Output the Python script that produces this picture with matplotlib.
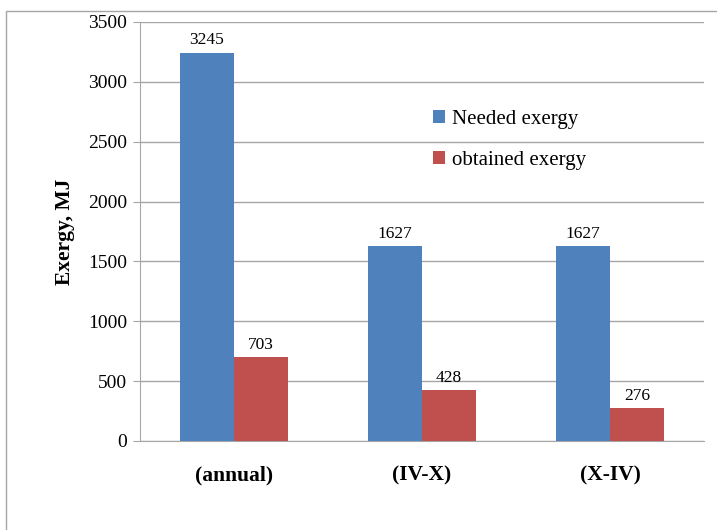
import numpy as np
import matplotlib.pyplot as plt
from matplotlib.patches import Rectangle

plt.rcParams['font.family'] = 'Liberation Serif'

categories = ["(annual)", "(IV-X)", "(X-IV)"]
needed = [3245, 1627, 1627]
obtained = [703, 428, 276]

fig = plt.figure(figsize=(7.17, 5.30), dpi=100)
ax = fig.add_axes([0.195, 0.168, 0.787, 0.7905])

# outer chart frame
fig.patches.append(Rectangle((6/717, -0.05), 1.1, 1 - 11/530 + 0.05,
                             transform=fig.transFigure, fill=False,
                             edgecolor='#a6a6a6', linewidth=1))

x = np.arange(len(categories))
w = 0.287
b1 = ax.bar(x - w/2, needed, w, color='#4F81BD', label='Needed exergy', zorder=3)
b2 = ax.bar(x + w/2, obtained, w, color='#C0504D', label='obtained exergy', zorder=3)
ax.bar_label(b1, padding=3, fontsize=12.5)
ax.bar_label(b2, padding=3, fontsize=12.5)

ax.set_xlim(-0.5, 2.5)
ax.set_ylim(0, 3500)
ax.set_yticks(range(0, 3501, 500))
ax.set_xticks(x)
ax.set_xticklabels(categories, fontsize=15.5, fontweight='bold')
ax.tick_params(axis='x', length=0, pad=18)
ax.tick_params(axis='y', labelsize=14, length=5, color='#a6a6a6', pad=4)
ax.grid(axis='y', color='#a6a6a6', linewidth=1, zorder=0)
for s in ['top', 'right']:
    ax.spines[s].set_visible(False)
ax.spines['left'].set_color('#a6a6a6')
ax.spines['bottom'].set_color('#a6a6a6')

ax.set_ylabel("Exergy, MJ", fontsize=15.5, fontweight='bold')
ax.yaxis.set_label_coords(-0.115, 0.5)

ax.legend(loc='upper left', bbox_to_anchor=(0.487, 0.835), frameon=False,
          fontsize=15, handlelength=0.55, handleheight=0.55, handletextpad=0.35,
          labelspacing=1.05)

fig.savefig('out.png', dpi=100)
